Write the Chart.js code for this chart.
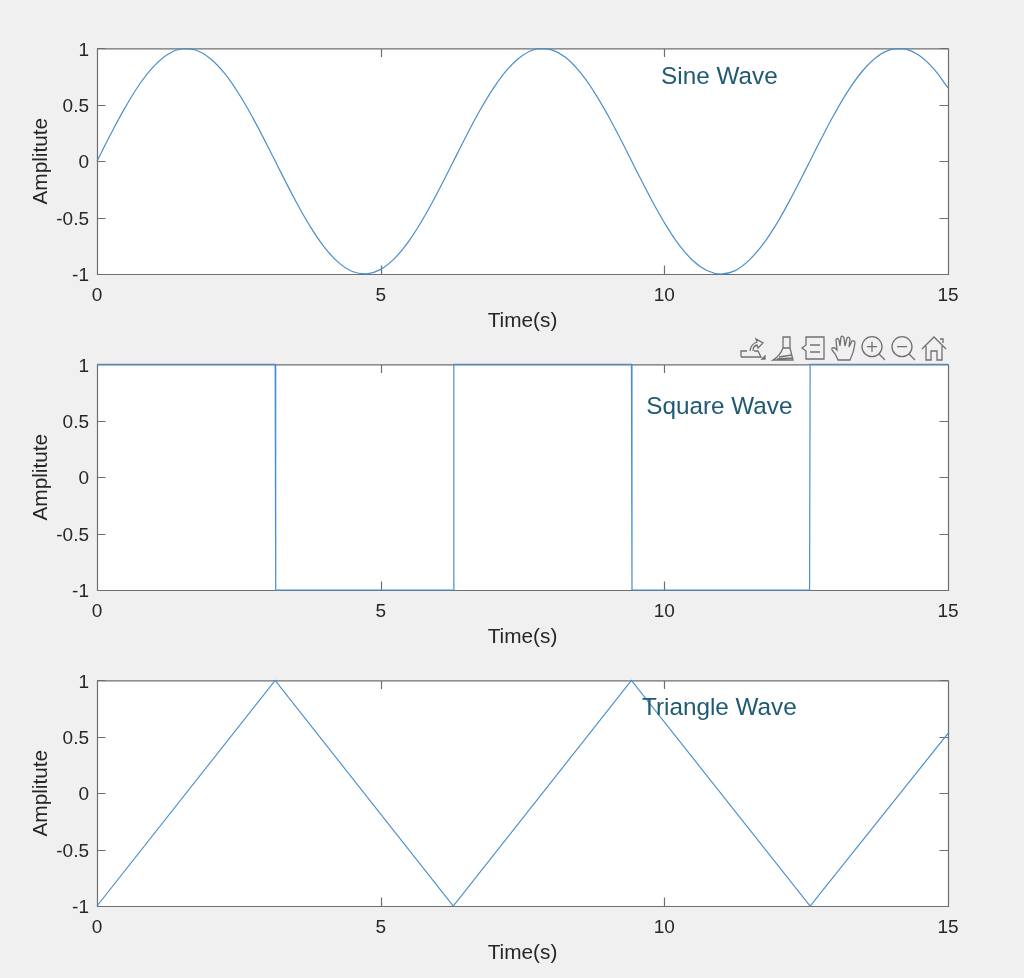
<!DOCTYPE html>
<html>
<head>
<meta charset="utf-8">
<title>Waves</title>
<script src="https://cdn.jsdelivr.net/npm/chart.js@4/dist/chart.umd.min.js"></script>
<style>
  html, body { margin: 0; padding: 0; background: #f0f0f0; }
  body { position: relative; width: 1024px; height: 978px; overflow: hidden; }
  canvas { position: absolute; left: 0; }
  #toolbar { position: absolute; left: 720px; top: 330px; }
</style>
</head>
<body>
<canvas id="sineChart" width="1024" height="310" style="top:29px"></canvas>
<canvas id="squareChart" width="1024" height="310" style="top:345px"></canvas>
<canvas id="triangleChart" width="1024" height="310" style="top:661px"></canvas>

<svg id="toolbar" width="240" height="40" fill="none" stroke="#707070" stroke-width="1.3">
  <!-- edit -->
  <path d="M21 27 V21 H27 M34 21 H38 L41 27 H21 M30 21 Q31 14 37 12 L36 9 L43 13 L38 18 L37 15 Q33 16 33 21"/>
  <path d="M42 29 L45 26 V29 Z" fill="#707070"/>
  <!-- brush -->
  <path d="M63 7 H70 V18 L73 30 H53 Q60 26 63 18 Z M63 18 H70 M59 27 L72 25 M57 29 L72 28"/>
  <!-- legend -->
  <path d="M86 7 H104 V29 H86 V21 L82 18 L86 15 Z M90 15 H100 M90 22 H100"/>
  <!-- hand -->
  <path d="M118 30 Q116 24 112 20 Q111 17 115 18 L117 20 L116 10 Q117 7 119 10 L120 16 L121 7 Q123 5 124 8 L125 16 L127 8 Q129 6 130 9 L129 17 L132 11 Q135 10 135 13 Q134 22 130 30 Z"/>
  <!-- zoom in -->
  <circle cx="152" cy="16.7" r="10"/>
  <path d="M159 24 L165 30 M147 16.7 H157 M152 11.7 V21.7"/>
  <!-- zoom out -->
  <circle cx="182" cy="16.7" r="10"/>
  <path d="M189 24 L195 30 M177 16.7 H187"/>
  <!-- home -->
  <path d="M202 19 L214 7 L226 19 M206 16 V30 H211 V21 H217 V30 H222 V16 M220 9 H223 V13"/>
</svg>

<script>
// x tick and y tick labels, same on the three plots
const xTickValues = [0, 5, 10, 15];
const yTickValues = [-1, -0.5, 0, 0.5, 1];

// sine wave
const sineTime = [0, 0.25, 0.5, 0.75, 1, 1.25, 1.5, 1.75, 2, 2.25, 2.5, 2.75, 3, 3.25, 3.5, 3.75, 4, 4.25, 4.5, 4.75, 5, 5.25, 5.5, 5.75, 6, 6.25, 6.5, 6.75, 7, 7.25, 7.5, 7.75, 8, 8.25, 8.5, 8.75, 9, 9.25, 9.5, 9.75, 10, 10.25, 10.5, 10.75, 11, 11.25, 11.5, 11.75, 12, 12.25, 12.5, 12.75, 13, 13.25, 13.5, 13.75, 14, 14.25, 14.5, 14.75, 15];
const sineValues = [0, 0.247, 0.479, 0.682, 0.841, 0.949, 0.997, 0.984, 0.909, 0.778, 0.598, 0.382, 0.141, -0.108, -0.351, -0.572, -0.757, -0.895, -0.978, -0.999, -0.959, -0.859, -0.706, -0.508, -0.279, -0.033, 0.215, 0.451, 0.657, 0.823, 0.938, 0.995, 0.989, 0.923, 0.798, 0.624, 0.412, 0.174, -0.075, -0.319, -0.544, -0.736, -0.88, -0.969, -1, -0.97, -0.875, -0.729, -0.537, -0.311, -0.066, 0.183, 0.42, 0.632, 0.804, 0.926, 0.991, 0.994, 0.935, 0.818, 0.65];

// square wave corners
const squareTime = [0, 3.14, 3.15, 6.28, 6.29, 9.42, 9.43, 12.56, 12.57, 15];
const squareValues = [1, 1, -1, -1, 1, 1, -1, -1, 1, 1];

// triangle wave corners
const triangleTime = [0, 3.14, 6.28, 9.42, 12.57, 15];
const triangleValues = [-1, 1, -1, 1, -1, 0.53];

const LINE_COLOR = '#4a8fcb';
const AXIS_COLOR = '#6e6e6e';
const TEXT_COLOR = '#262626';
const FONT = '"Liberation Sans", Arial, sans-serif';

/* ===== white plot, frame with inward ticks on all four sides + wave name ===== */
const matlabBox = {
  id: 'matlabBox',
  beforeDatasetsDraw(chart) {
    const { ctx, chartArea: a, scales } = chart;
    const len = 8.5;
    ctx.save();
    ctx.fillStyle = '#ffffff';
    ctx.fillRect(a.left, a.top, a.right - a.left, a.bottom - a.top);
    ctx.strokeStyle = AXIS_COLOR;
    ctx.lineWidth = 1.2;
    ctx.beginPath();
    ctx.rect(a.left + 0.5, a.top + 0.5, a.right - a.left, a.bottom - a.top);
    xTickValues.forEach(v => {
      const x = Math.round(scales.x.getPixelForValue(v)) + 0.5;
      ctx.moveTo(x, a.bottom); ctx.lineTo(x, a.bottom - len);
      ctx.moveTo(x, a.top); ctx.lineTo(x, a.top + len);
    });
    yTickValues.forEach(v => {
      const y = Math.round(scales.y.getPixelForValue(v)) + 0.5;
      ctx.moveTo(a.left, y); ctx.lineTo(a.left + len, y);
      ctx.moveTo(a.right, y); ctx.lineTo(a.right - len, y);
    });
    ctx.stroke();
    ctx.restore();
  },
  afterDatasetsDraw(chart, args, opts) {
    const { ctx, scales } = chart;
    ctx.save();
    ctx.fillStyle = '#1f5a73';
    ctx.font = '24.3px ' + FONT;
    ctx.textAlign = 'center';
    ctx.textBaseline = 'middle';
    ctx.fillText(opts.text, scales.x.getPixelForValue(opts.x), scales.y.getPixelForValue(opts.y));
    ctx.restore();
  }
};

function drawWave(id, times, values, note, curved) {
  new Chart(document.getElementById(id).getContext('2d'), {
    type: 'line',
    plugins: [matlabBox],
    data: {
      datasets: [{
        data: times.map((t, i) => ({ x: t, y: values[i] })),
        borderColor: LINE_COLOR,
        borderWidth: 1.2,
        pointRadius: 0,
        clip: false,
        tension: curved ? 0.4 : 0
      }]
    },
    options: {
      responsive: false,
      animation: false,
      layout: { padding: { top: 0, right: 76, bottom: 0, left: 0 } },
      plugins: { legend: { display: false }, tooltip: { enabled: false }, matlabBox: note },
      scales: {
        x: {
          type: 'linear', min: 0, max: 15,
          afterBuildTicks: s => { s.ticks = xTickValues.map(v => ({ value: v })); },
          afterFit: s => { s.height = 65; },
          grid: { display: false, drawTicks: false },
          border: { display: false },
          ticks: { color: TEXT_COLOR, font: { family: FONT, size: 19 }, padding: 10, maxRotation: 0, autoSkip: false },
          title: { display: true, text: 'Time(s)', color: TEXT_COLOR, font: { family: FONT, size: 20.8 }, padding: { top: 5, bottom: 5 } }
        },
        y: {
          min: -1, max: 1,
          afterBuildTicks: s => { s.ticks = yTickValues.map(v => ({ value: v })); },
          afterFit: s => { s.width = 97; },
          grid: { display: false, drawTicks: false },
          border: { display: false },
          ticks: { color: TEXT_COLOR, font: { family: FONT, size: 19 }, padding: 8, labelOffset: 2, autoSkip: false, callback: v => String(v) },
          title: { display: true, text: 'Amplitute', color: TEXT_COLOR, font: { family: FONT, size: 20.8 }, padding: { top: 29, bottom: 0 } }
        }
      }
    }
  });
}

drawWave('sineChart', sineTime, sineValues, { text: 'Sine Wave', x: 10.97, y: 0.74 }, true);
drawWave('squareChart', squareTime, squareValues, { text: 'Square Wave', x: 10.97, y: 0.62 }, false);
drawWave('triangleChart', triangleTime, triangleValues, { text: 'Triangle Wave', x: 10.97, y: 0.75 }, false);
</script>
</body>
</html>
